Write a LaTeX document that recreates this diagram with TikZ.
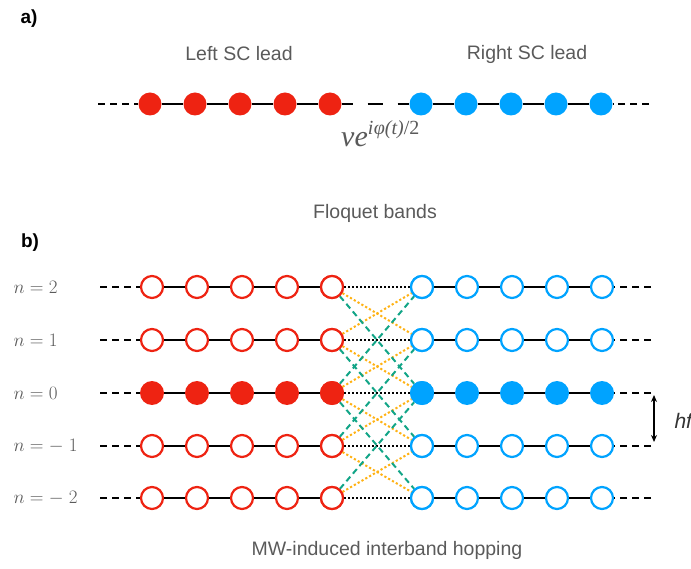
\documentclass[tikz,border=0pt]{standalone}
\usepackage{fix-cm}
\usepackage{fontspec}
\usetikzlibrary{arrows.meta}
\newfontfamily\helv{Liberation Sans}
\newfontfamily\tserif{Liberation Serif}
\definecolor{leadred}{RGB}{238,35,18}
\definecolor{leadblue}{RGB}{0,163,255}
\definecolor{hoporange}{RGB}{255,178,20}
\definecolor{hopgreen}{RGB}{18,165,135}
\definecolor{txtgray}{RGB}{90,90,90}
\tikzset{
  fullsite/.style={circle,inner sep=0pt,minimum size=23pt,draw=none,fill=#1},
  opensite/.style={circle,inner sep=0pt,minimum size=22pt,line width=2.2pt,draw=#1,fill=white},
  bond/.style={line width=2pt,black},
  tail/.style={line width=2pt,black,dash pattern=on 7pt off 5pt},
  weak/.style={line width=2pt,black,dash pattern=on 2pt off 2pt},
  junction/.style={line width=2pt,black,dash pattern=on 11pt off 15pt on 15pt off 15pt},
  hopone/.style={line width=2pt,hoporange,dash pattern=on 2.2pt off 2.2pt},
  hoptwo/.style={line width=2pt,hopgreen,dash pattern=on 6pt off 4pt},
  caption/.style={font=\helv\fontsize{19.5}{22}\selectfont,text=txtgray},
  panel/.style={font=\helv\bfseries\fontsize{19}{22}\selectfont,text=black},
  bandlabel/.style={font=\fontsize{19}{22}\selectfont,text=txtgray,anchor=west}
}
\begin{document}
\begin{tikzpicture}[x=1pt,y=-1pt]
\useasboundingbox (0,0) rectangle (691,569);

% ---- panel a: junction of two superconducting leads ----
\node[panel] (pa) at (29,19) {a)};
\node[caption] (lefttitle) at (239,54) {Left SC lead};
\node[caption] (righttitle) at (527,54) {Right SC lead};

\foreach \i/\x in {1/150,2/195,3/240,4/285,5/330}
  \node[fullsite=leadred] (la\i) at (\x,104) {};
\foreach \i/\x in {1/421,2/466,3/511,4/556,5/601}
  \node[fullsite=leadblue] (ra\i) at (\x,104) {};

\coordinate (laend) at (98,104);
\coordinate (raend) at (649,104);
\draw[tail] (laend) -- (la1);
\draw[tail] (raend) -- (ra5);
\foreach \i/\j in {1/2,2/3,3/4,4/5} {
  \draw[bond] (la\i) -- (la\j);
  \draw[bond] (ra\i) -- (ra\j);
}
\draw[junction] (la5) -- (ra1);
\node[text=txtgray,font=\tserif\itshape\fontsize{30}{32}\selectfont,anchor=base west,inner sep=0pt] (coupling) at (341,147)
  {ve\raisebox{0.42em}{\fontsize{20}{22}\selectfont i\kern0.5pt φ(t)\upshape/2}};

% ---- panel b: Floquet bands ----
\node[caption] (floquet) at (375,213) {Floquet bands};
\node[panel] (pb) at (30,243) {b)};

\foreach \r/\y/\lab in {1/287/2,2/340/1,3/393/0,4/446/{-\;1},5/498/{-\;2}} {
  \node[bandlabel] (n\r) at (10,\y) {$n=\lab$};
  \foreach \i/\x in {1/152,2/197,3/242,4/287,5/332} {
    \ifnum\r=3
      \node[fullsite=leadred,minimum size=24pt] (L\r\i) at (\x,\y) {};
    \else
      \node[opensite=leadred] (L\r\i) at (\x,\y) {};
    \fi
  }
  \foreach \i/\x in {1/422,2/467,3/512,4/557,5/602} {
    \ifnum\r=3
      \node[fullsite=leadblue,minimum size=24pt] (R\r\i) at (\x,\y) {};
    \else
      \node[opensite=leadblue] (R\r\i) at (\x,\y) {};
    \fi
  }
  \coordinate (Lend\r) at (100,\y);
  \coordinate (Rend\r) at (651,\y);
  \draw[tail] (Lend\r) -- (L\r1);
  \draw[tail] (Rend\r) -- (R\r5);
  \foreach \i/\j in {1/2,2/3,3/4,4/5} {
    \draw[bond] (L\r\i) -- (L\r\j);
    \draw[bond] (R\r\i) -- (R\r\j);
  }
  \draw[weak] (L\r5) -- (R\r1);
}

% single-photon hopping between neighbouring bands
\foreach \a/\b in {1/2,2/1,2/3,3/2,3/4,4/3,4/5,5/4}
  \draw[hopone] (L\a5) -- (R\b1);
% two-photon hopping
\foreach \a/\b in {1/3,3/1,2/4,4/2,3/5,5/3}
  \draw[hoptwo] (L\a5) -- (R\b1);

% redraw the edge sites on top of the hopping lines
\foreach \r in {1,2,4,5} {
  \node[opensite=leadred] at (L\r5) {};
  \node[opensite=leadblue] at (R\r1) {};
}
\node[fullsite=leadred,minimum size=24pt] at (L35) {};
\node[fullsite=leadblue,minimum size=24pt] at (R31) {};

% band spacing
\coordinate (gaptop) at (654,395);
\coordinate (gapbot) at (654,442);
\draw[{Stealth[length=7pt,width=6pt]}-{Stealth[length=7pt,width=6pt]},line width=1.2pt] (gaptop) -- (gapbot);
\node[anchor=west,font=\helv\itshape\fontsize{21}{24}\selectfont,text=black!80] (hf) at (671,421) {hf};

\node[caption] (mw) at (387,550) {MW-induced interband hopping};
\end{tikzpicture}
\end{document}
